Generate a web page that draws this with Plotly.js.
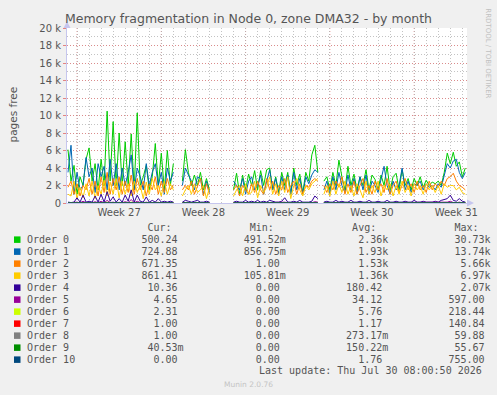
<!DOCTYPE html>
<html><head><meta charset="utf-8">
<script src="https://cdn.plot.ly/plotly-3.0.1.min.js"></script>
<style>html,body{margin:0;padding:0;background:#f0f0f0;}</style>
</head><body><div id="chart" style="width:497px;height:395px;"></div>
<script>
// ---- sampling of the series (one sample every 6 hours) ----
const sampleStart = '2026-06-28T06:00:00Z';
const sampleStepHours = 6;

// ---- axis ----
const xRange = ['2026-06-28 04:00', '2026-07-31 09:20'];
const weekStarts = ['2026-06-29', '2026-07-06', '2026-07-13', '2026-07-20', '2026-07-27'];
const weekLabelPos = ['2026-07-02 12:00', '2026-07-09 12:00', '2026-07-16 12:00', '2026-07-23 12:00', '2026-07-30 12:00'];
const weekLabels = ['Week 27', 'Week 28', 'Week 29', 'Week 30', 'Week 31'];
const yTickVals = [0, 2, 4, 6, 8, 10, 12, 14, 16, 18, 20];
const yTickText = ['0', '2 k', '4 k', '6 k', '8 k', '10 k', '12 k', '14 k', '16 k', '18 k', '20 k'];

// ---- series (thousands of pages free) ----
const seriesNames = ['Order 0','Order 1','Order 2','Order 3','Order 4','Order 5','Order 6','Order 7','Order 8','Order 9','Order 10'];
const seriesColors = ['#00CC00','#0066B3','#FF8000','#FFCC00','#330099','#990099','#CCFF00','#FF0000','#808080','#008F00','#00487D'];

const order0 = [6.1,2.5,4.3,1.0,3.0,2.0,5.0,6.3,2.5,4.5,1.5,5.0,2.0,10.5,2.5,9.3,2.0,8.0,2.0,7.0,2.0,7.9,1.5,10.3,2.0,3.0,4.3,1.5,3.0,6.8,2.0,5.7,1.5,6.0,2.0,4.5,
 null,null,
 2.5,6.1,3.5,2.0,3.2,2.0,3.5,1.5,2.8,1.5,
 null,null,null,null,null,null,null,
 1.5,3.4,1.0,3.2,1.5,3.3,2.0,3.7,1.5,3.7,2.0,3.8,4.0,1.5,3.0,1.2,3.5,2.0,3.5,1.0,4.0,2.0,3.3,1.2,3.5,2.5,5.5,6.6,3.5,
 null,
 2.5,3.0,1.5,3.5,2.0,4.9,3.0,1.5,4.2,2.0,3.3,1.5,3.0,2.0,3.8,1.5,3.2,2.7,1.5,3.2,2.0,4.2,1.5,3.0,3.4,1.5,3.8,2.0,2.8,1.5,2.8,2.0,3.0,1.8,2.6,2.0,2.4,2.2,2.5,2.0,3.5,5.7,4.5,5.8,4.2,4.7,3.0,4.0];
const order1 = [3.5,6.6,1.0,3.5,1.5,2.0,5.2,3.0,4.0,1.2,4.5,3.0,4.2,1.5,5.0,2.0,4.5,1.5,4.0,2.0,3.5,5.5,1.5,4.0,3.0,1.5,4.5,2.0,3.5,4.5,2.0,3.5,1.0,4.0,2.5,3.5,
 null,null,
 2.0,4.0,3.2,2.5,1.5,3.0,2.8,1.0,2.5,1.2,
 null,null,null,null,null,null,null,
 2.5,2.0,1.5,2.8,1.0,2.5,3.0,1.5,2.0,3.2,1.0,2.5,3.8,1.5,2.8,1.0,3.0,1.5,3.2,1.0,3.5,1.5,2.8,1.0,3.0,2.2,3.2,3.8,3.5,
 null,
 1.5,2.5,1.0,3.0,1.5,3.5,2.0,1.2,3.2,1.5,2.8,1.0,3.0,1.5,3.2,1.0,2.5,2.0,1.2,2.8,4.2,2.0,1.0,2.5,1.5,2.0,4.0,1.5,2.5,1.2,2.2,2.0,2.5,1.5,2.2,1.8,2.0,1.5,2.2,1.8,3.0,4.5,4.0,4.8,5.0,3.5,2.8,3.5];
const order2 = [1.8,2.5,1.0,2.2,0.8,2.0,1.5,2.8,1.0,2.5,0.8,3.0,1.2,3.5,1.0,2.8,1.5,3.0,1.0,2.5,1.2,3.2,1.0,2.8,1.5,2.5,0.8,2.2,1.5,3.0,1.0,2.5,1.2,2.8,1.5,2.0,
 null,null,
 1.5,2.0,1.5,2.5,1.0,2.0,2.8,0.8,2.2,1.0,
 null,null,null,null,null,null,null,
 1.5,2.0,0.8,2.0,1.5,1.0,2.2,1.2,2.5,1.5,1.0,2.8,1.5,2.5,1.0,2.0,1.5,2.8,1.2,2.0,2.5,1.0,2.2,1.0,2.0,1.8,2.5,2.8,2.5,
 null,
 2.0,1.2,2.2,1.5,2.5,1.8,3.0,1.0,2.2,1.2,2.5,1.0,2.0,2.8,1.2,2.0,1.0,2.5,1.5,2.2,1.2,2.8,1.0,2.0,2.5,1.2,2.0,2.8,1.5,2.2,1.2,2.5,1.5,2.0,1.2,2.5,1.5,2.2,1.8,2.5,2.0,2.8,3.0,3.4,2.5,2.0,1.8,1.5];
const order3 = [1.0,0.8,2.5,0.5,1.8,0.6,2.2,0.8,2.5,0.5,2.0,1.0,2.6,0.8,2.4,1.0,2.8,0.6,2.5,1.0,2.2,0.8,2.5,1.2,2.0,0.5,2.4,1.0,2.8,1.5,2.0,0.8,2.5,1.0,2.2,1.5,
 null,null,
 0.8,1.5,2.0,1.0,2.2,1.2,1.5,2.0,0.5,1.8,
 null,null,null,null,null,null,null,
 0.8,1.5,2.0,0.8,2.2,1.0,1.2,2.5,0.6,2.0,1.2,1.8,3.0,1.0,2.2,0.8,2.5,1.2,3.0,0.5,2.0,2.8,1.5,0.8,2.0,1.5,2.2,2.5,2.8,
 null,
 1.0,2.0,0.8,2.5,1.0,2.2,1.2,2.5,1.0,2.0,0.8,2.2,1.5,0.6,2.5,1.0,2.0,1.2,2.5,0.8,2.0,1.5,2.2,0.8,2.0,1.0,2.5,1.2,2.0,0.8,2.2,1.5,2.0,1.0,2.2,1.5,2.0,1.2,2.0,1.0,2.2,1.8,2.0,2.0,1.5,1.8,1.2,1.0];
const order4 = [0.1,0.05,0.1,0.6,0.1,0.9,0.1,0.2,0.1,0.8,0.1,1.0,0.1,1.3,0.2,0.7,0.1,0.5,0.1,0.9,0.2,1.5,0.1,0.9,0.2,0.1,0.7,0.1,0.3,0.1,0.5,0.1,0.2,0.1,0.2,0.1,
 null,null,
 0.1,0.3,0.2,0.1,0.2,0.3,0.1,0.1,0.2,0.1,
 null,null,null,null,null,null,null,
 0.1,0.2,0.1,0.1,0.3,0.1,0.2,0.1,0.3,0.1,0.2,0.1,0.3,0.2,0.1,0.1,0.2,0.6,0.1,0.1,0.2,0.1,0.3,0.1,0.1,0.1,0.2,0.8,0.5,
 null,
 0.1,0.2,0.1,0.1,0.3,0.1,0.2,0.1,0.1,0.3,0.1,0.1,0.2,0.1,0.1,0.3,0.1,0.1,0.2,0.1,0.1,0.3,0.1,0.1,0.2,0.1,0.1,0.2,0.1,0.1,0.3,0.1,0.1,0.2,0.1,0.1,0.1,0.2,0.1,0.3,0.4,0.5,0.9,0.3,0.2,0.5,0.2,0.1];
const order5 = [0.02,0.03,0.05,0.1,0.02,0.2,0.03,0.05,0.02,0.15,0.03,0.2,0.02,0.3,0.05,0.1,0.02,0.08,0.03,0.15,0.05,0.4,0.02,0.2,0.05,0.02,0.1,0.02,0.05,0.02,0.08,0.02,0.05,0.02,0.03,0.02,
 null,null,
 0.02,0.05,0.03,0.02,0.04,0.05,0.02,0.02,0.03,0.02,
 null,null,null,null,null,null,null,
 0.02,0.03,0.02,0.02,0.05,0.02,0.03,0.02,0.05,0.02,0.03,0.02,0.05,0.03,0.02,0.02,0.03,0.1,0.02,0.02,0.03,0.02,0.05,0.02,0.02,0.02,0.03,0.15,0.1,
 null,
 0.02,0.03,0.02,0.02,0.05,0.02,0.03,0.02,0.02,0.05,0.02,0.02,0.03,0.02,0.02,0.05,0.02,0.02,0.03,0.02,0.02,0.05,0.02,0.02,0.03,0.02,0.02,0.03,0.02,0.02,0.05,0.02,0.02,0.03,0.02,0.02,0.02,0.03,0.02,0.05,0.08,0.1,0.2,0.05,0.03,0.1,0.03,0.02];
const order6 = [0.01,0.01,0.02,0.03,0.01,0.05,0.01,0.01,0.01,0.04,0.01,0.05,0.01,0.1,0.01,0.03,0.01,0.02,0.01,0.04,0.01,0.1,0.01,0.05,0.01,0.01,0.02,0.01,0.01,0.01,0.02,0.01,0.01,0.01,0.01,0.01,
 null,null,
 0.01,0.01,0.01,0.01,0.01,0.01,0.01,0.01,0.01,0.01,
 null,null,null,null,null,null,null,
 0.01,0.01,0.01,0.01,0.01,0.01,0.01,0.01,0.01,0.01,0.01,0.01,0.01,0.01,0.01,0.01,0.01,0.02,0.01,0.01,0.01,0.01,0.01,0.01,0.01,0.01,0.01,0.03,0.02,
 null,
 0.01,0.01,0.01,0.01,0.01,0.01,0.01,0.01,0.01,0.01,0.01,0.01,0.01,0.01,0.01,0.01,0.01,0.01,0.01,0.01,0.01,0.01,0.01,0.01,0.01,0.01,0.01,0.01,0.01,0.01,0.01,0.01,0.01,0.01,0.01,0.01,0.01,0.01,0.01,0.01,0.02,0.02,0.05,0.01,0.01,0.02,0.01,0.01];
const order7 = [0,0,0,0.01,0,0.02,0,0,0,0.01,0,0.02,0,0.05,0,0.01,0,0.01,0,0.02,0,0.05,0,0.02,0,0,0.01,0,0,0,0.01,0,0,0,0,0,
 null,null,
 0,0,0,0,0,0,0,0,0,0,
 null,null,null,null,null,null,null,
 0,0,0,0,0,0,0,0,0,0,0,0,0,0,0,0,0,0.01,0,0,0,0,0,0,0,0,0,0.01,0,
 null,
 0,0,0,0,0,0,0,0,0,0,0,0,0,0,0,0,0,0,0,0,0,0,0,0,0,0,0,0,0,0,0,0,0,0,0,0,0,0,0,0,0,0,0.01,0,0,0,0,0];
const order8 = [0,0,0,0,0,0.01,0,0,0,0,0,0.01,0,0.02,0,0,0,0,0,0.01,0,0.02,0,0.01,0,0,0,0,0,0,0,0,0,0,0,0,
 null,null,
 0,0,0,0,0,0,0,0,0,0,
 null,null,null,null,null,null,null,
 0,0,0,0,0,0,0,0,0,0,0,0,0,0,0,0,0,0,0,0,0,0,0,0,0,0,0,0,0,
 null,
 0,0,0,0,0,0,0,0,0,0,0,0,0,0,0,0,0,0,0,0,0,0,0,0,0,0,0,0,0,0,0,0,0,0,0,0,0,0,0,0,0,0,0,0,0,0,0,0];
const order9 = [0,0,0,0,0,0.01,0,0,0,0,0,0,0,0.02,0,0,0,0,0,0,0,0.02,0,0,0,0,0,0,0,0,0,0,0,0,0,0,
 null,null,
 0,0,0,0,0,0,0,0,0,0,
 null,null,null,null,null,null,null,
 0,0,0,0,0,0,0,0,0,0,0,0,0,0,0,0,0,0,0,0,0,0,0,0,0,0,0,0,0,
 null,
 0,0,0,0,0,0,0,0,0,0,0,0,0,0,0,0,0,0,0,0,0,0,0,0,0,0,0,0,0,0,0,0,0,0,0,0,0,0,0,0,0,0,0,0,0,0,0,0];
const order10 = [0,0,0,0.01,0,0.02,0,0,0,0.01,0,0.02,0,0.05,0,0.01,0,0,0,0.02,0,0.05,0,0.02,0,0,0,0,0,0,0,0,0,0,0,0,
 null,null,
 0,0,0,0,0,0,0,0,0,0,
 null,null,null,null,null,null,null,
 0,0,0,0,0,0,0,0,0,0,0,0,0,0,0,0,0,0,0,0,0,0,0,0,0,0,0,0,0,
 null,
 0,0,0,0,0,0,0,0,0,0,0,0,0,0,0,0,0,0,0,0,0,0,0,0,0,0,0,0,0,0,0,0,0,0,0,0,0,0,0,0,0,0,0,0,0,0,0,0];

// ---- legend table ----
const curVals = ['500.24','724.88','671.35','861.41','10.36','4.65','2.31','1.00','1.00','40.53m','0.00'];
const minVals = ['491.52m','856.75m','1.00','105.81m','0.00','0.00','0.00','0.00','0.00','0.00','0.00'];
const avgVals = ['2.36k','1.93k','1.53k','1.36k','180.42','34.12','5.76','1.17','273.17m','150.22m','1.76'];
const maxVals = ['30.73k','13.74k','5.66k','6.97k','2.07k','597.00','218.44','140.84','59.88','55.67','755.00'];
const lastUpdate = 'Last update: Thu Jul 30 08:00:50 2026';

const seriesData = [order0,order1,order2,order3,order4,order5,order6,order7,order8,order9,order10];

// timestamps
const t0 = Date.parse(sampleStart);
const xs = order0.map((_, i) => new Date(t0 + i * sampleStepHours * 3600000).toISOString().slice(0, 16).replace('T', ' '));

const traces = seriesData.map((ys, i) => ({
  type: 'scatter', mode: 'lines', x: xs, y: ys, name: seriesNames[i],
  line: {color: seriesColors[i], width: 1}, connectgaps: false,
  hoverinfo: 'skip', showlegend: false
}));

// geometry helpers (plot box: 67..467 px horizontally, 28..203 px vertically)
const L = 67, W = 400, B = 203, H = 175;
const px = v => (v - L) / W;
const py = v => (B - v) / H;

const NB = '\u00A0';
function place(str, val, end) {
  let num = val, suf = '';
  if (/[km]$/.test(val)) { num = val.slice(0, -1); suf = val.slice(-1); }
  const start = end - num.length;
  while (str.length < start) str += ' ';
  return str + num + suf;
}
function atCol(str, txt, col) { while (str.length < col) str += ' '; return str + txt; }

const monoFont = {family: 'DejaVu Sans Mono, monospace', size: 10, color: '#555555'};
const annotations = [];
const shapes = [];

let header = atCol(atCol(atCol(atCol('', 'Cur:', 20), 'Min:', 37), 'Avg:', 54), 'Max:', 71);
annotations.push({xref: 'paper', yref: 'paper', x: px(26), y: py(227.7), xanchor: 'left', yanchor: 'middle',
  text: header.replace(/ /g, NB), showarrow: false, font: monoFont, borderpad: 0});

seriesNames.forEach((n, i) => {
  let s = n;
  s = place(s, curVals[i], 25);
  s = place(s, minVals[i], 42);
  s = place(s, avgVals[i], 59);
  s = place(s, maxVals[i], 76);
  const yc = 239.7 + 12 * i;
  annotations.push({xref: 'paper', yref: 'paper', x: px(26), y: py(yc), xanchor: 'left', yanchor: 'middle',
    text: s.replace(/ /g, NB), showarrow: false, font: monoFont, borderpad: 0});
  shapes.push({type: 'rect', xref: 'paper', yref: 'paper', x0: px(14), x1: px(20.5), y0: py(yc + 3.2), y1: py(yc - 3.3),
    fillcolor: seriesColors[i], line: {width: 0}});
});

annotations.push({xref: 'paper', yref: 'paper', x: px(482.5), y: py(370.7), xanchor: 'right', yanchor: 'middle',
  text: lastUpdate.replace(/ /g, NB), showarrow: false, font: monoFont, borderpad: 0});
annotations.push({xref: 'paper', yref: 'paper', x: px(248), y: py(384.5), xanchor: 'center', yanchor: 'middle',
  text: 'Munin 2.0.76', showarrow: false, font: {family: 'DejaVu Sans', size: 7.5, color: '#c4c4c4'}, borderpad: 0});
annotations.push({xref: 'paper', yref: 'paper', x: px(12), y: py(114.5), xanchor: 'center', yanchor: 'middle',
  text: 'pages free', textangle: -90, showarrow: false, font: {family: 'DejaVu Sans', size: 10.5, color: '#555555'}, borderpad: 0});
annotations.push({xref: 'paper', yref: 'paper', x: px(487.7), y: py(53), xanchor: 'center', yanchor: 'middle',
  text: 'RRDTOOL / TOBI OETIKER', textangle: 90, showarrow: false, font: {family: 'DejaVu Sans', size: 7, color: '#c0c0c0'}, borderpad: 0});

// week major grid lines
weekStarts.forEach(d => shapes.push({type: 'line', xref: 'x', yref: 'paper', x0: d, x1: d, y0: 0, y1: 1,
  line: {color: 'rgba(225,120,120,0.75)', width: 1, dash: '1px,2px'}, layer: 'below'}));

// axis arrows
const axisCol = '#c6c6ee';
shapes.push({type: 'path', xref: 'paper', yref: 'paper',
  path: `M ${px(63.5)} ${py(28)} L ${px(70.5)} ${py(28)} L ${px(67)} ${py(21.5)} Z`, fillcolor: axisCol, line: {width: 0}});
shapes.push({type: 'path', xref: 'paper', yref: 'paper',
  path: `M ${px(467)} ${py(199.5)} L ${px(467)} ${py(206.5)} L ${px(474)} ${py(203)} Z`, fillcolor: axisCol, line: {width: 0}});

const layout = {
  width: 497, height: 395, autosize: false,
  margin: {l: 67, r: 30, t: 28, b: 192, pad: 0},
  paper_bgcolor: '#f0f0f0', plot_bgcolor: '#ffffff',
  showlegend: false,
  title: {text: 'Memory fragmentation in Node 0, zone DMA32 - by month', x: 0.5, xref: 'container', xanchor: 'center',
    y: 1 - 19 / 395, yref: 'container', yanchor: 'middle', font: {family: 'DejaVu Sans', size: 12.5, color: '#555555'}},
  xaxis: {type: 'date', range: xRange, tickmode: 'array', tickvals: weekLabelPos, ticktext: weekLabels,
    showgrid: false, zeroline: false, ticks: '', showline: true, linecolor: axisCol, linewidth: 1,
    tickfont: {family: 'DejaVu Sans', size: 10, color: '#555555'},
    minor: {tick0: '2026-06-29', dtick: 86400000, showgrid: true, gridcolor: 'rgba(170,170,170,0.7)', griddash: '1px,2px', gridwidth: 1, ticks: ''}},
  yaxis: {range: [0, 20], tickmode: 'array', tickvals: yTickVals, ticktext: yTickText,
    showgrid: true, gridcolor: 'rgba(225,120,120,0.75)', griddash: '1px,2px', gridwidth: 1,
    zeroline: false, ticks: 'outside', ticklen: 3, tickcolor: 'rgba(225,120,120,0.9)', showline: true, linecolor: axisCol, linewidth: 1,
    tickfont: {family: 'DejaVu Sans', size: 10, color: '#555555'},
    minor: {dtick: 1, showgrid: true, gridcolor: 'rgba(170,170,170,0.7)', griddash: '1px,2px', gridwidth: 1, ticks: ''}},
  annotations: annotations,
  shapes: shapes
};

Plotly.newPlot('chart', traces, layout, {staticPlot: true, displayModeBar: false});
</script></body></html>
